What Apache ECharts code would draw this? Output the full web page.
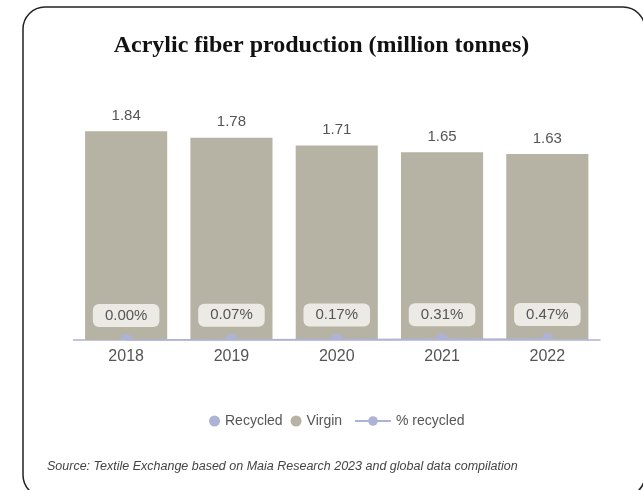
<!DOCTYPE html>
<html>
<head>
<meta charset="utf-8">
<script src="https://cdn.jsdelivr.net/npm/echarts@6/dist/echarts.min.js"></script>
<style>
  html, body { margin: 0; padding: 0; background: #fff; }
  #chart { width: 643px; height: 490px; }
</style>
</head>
<body>
<div id="chart"></div>
<script>
var years = ['2018', '2019', '2020', '2021', '2022'];
var virgin = [1.84, 1.78, 1.71, 1.65, 1.63];
var recycled = [0, 0.0013, 0.0029, 0.0051, 0.0077];
var pctRecycled = [0.00, 0.07, 0.17, 0.31, 0.47];

var lavender = '#adb3d4';
var khaki = '#b6b3a5';

// half disk so the dot sits on the axis like the original
var halfDot = 'path://M0,10A10,10,0,0,1,20,10Z';

var myChart = echarts.init(document.getElementById('chart'));
option = {
    animation: false,
    title: {
        text: 'Acrylic fiber production (million tonnes)',
        left: 'center',
        top: 29,
        textStyle: {
            fontFamily: 'Liberation Serif',
            fontWeight: 'bold',
            fontSize: 24,
            color: '#111'
        }
    },
    graphic: [
        {
            type: 'rect',
            shape: { x: 23, y: 7, width: 622, height: 490, r: 22 },
            style: { fill: 'none', stroke: '#222', lineWidth: 1.5 },
            z: 100
        },
        {
            type: 'text',
            left: 47,
            top: 460,
            style: {
                text: 'Source: Textile Exchange based on Maia Research 2023 and global data compilation',
                font: 'italic 12.5px "Liberation Sans", Arial, sans-serif',
                fill: '#444'
            }
        }
    ],
    legend: [
        {
            data: ['Recycled', 'Virgin'],
            left: 204,
            top: 409,
            icon: 'circle',
            itemWidth: 11,
            itemHeight: 11,
            itemGap: 8,
            textStyle: { fontSize: 14, color: '#555', fontFamily: 'Liberation Sans' }
        },
        {
            data: ['% recycled'],
            left: 349,
            top: 409,
            itemWidth: 36,
            itemHeight: 12,
            textStyle: { fontSize: 14, color: '#555', fontFamily: 'Liberation Sans' }
        }
    ],
    grid: {
        left: 73.5,
        right: 43,
        top: 113,
        bottom: 150
    },
    xAxis: {
        type: 'category',
        data: years,
        axisLine: { lineStyle: { color: lavender, width: 1.5 } },
        axisTick: { show: false },
        axisLabel: {
            fontSize: 16,
            color: '#555',
            margin: 9,
            fontFamily: 'Liberation Sans'
        }
    },
    yAxis: [
        { type: 'value', min: 0, max: 2, show: false },
        { type: 'value', min: 0, max: 100, show: false }
    ],
    series: [
        {
            name: 'Recycled',
            type: 'bar',
            stack: 'total',
            barWidth: '78%',
            itemStyle: { color: lavender },
            data: recycled
        },
        {
            name: 'Virgin',
            type: 'bar',
            stack: 'total',
            barWidth: '78%',
            itemStyle: { color: khaki },
            label: {
                show: true,
                position: 'top',
                distance: 8,
                fontSize: 15,
                color: '#555',
                fontFamily: 'Liberation Sans'
            },
            data: virgin
        },
        {
            name: '% recycled',
            type: 'line',
            yAxisIndex: 1,
            symbol: 'circle',
            symbolSize: 10,
            itemStyle: { color: lavender },
            lineStyle: { color: lavender, width: 1.5 },
            label: {
                show: true,
                position: 'top',
                distance: 7,
                fontSize: 15,
                color: '#555',
                fontFamily: 'Liberation Sans',
                backgroundColor: '#ebeae5',
                borderRadius: 6,
                padding: [4, 12],
                formatter: function (p) {
                    return p.value.toFixed(2) + '%';
                }
            },
            data: pctRecycled.map(function (v) {
                return { value: v, symbol: halfDot, symbolSize: [12, 6], symbolOffset: [0, -3] };
            }),
            z: 5
        }
    ]
};

myChart.setOption(option);
</script>
</body>
</html>
